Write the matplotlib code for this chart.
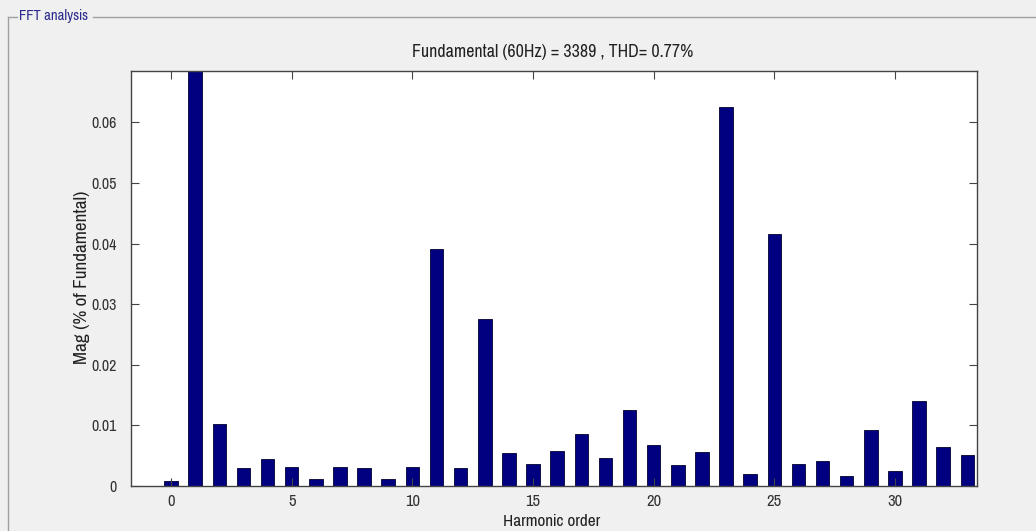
import matplotlib
matplotlib.use("Agg")
import matplotlib.pyplot as plt
from matplotlib.lines import Line2D
from matplotlib import font_manager
from matplotlib.font_manager import FontProperties

# look for a condensed / narrow sans font of regular weight
bad = ["bold", "oblique", "italic", "light", "thin", "medium", "semi", "black", "extra", "heavy", "mono"]
cands = []
for f in font_manager.findSystemFonts():
    low = f.lower().rsplit("/", 1)[-1]
    if ("narrow" in low or "condensed" in low) and not any(b in low for b in bad):
        cands.append(f)
cands.sort(key=lambda p: (0 if "regular" in p.lower() else 1, len(p)))
cand = cands[0] if cands else None

def fp(size):
    if cand:
        return FontProperties(fname=cand, size=size)
    return FontProperties(family=["Liberation Sans", "DejaVu Sans"], size=size * 0.85)

harmonic_order = list(range(0, 34))
magnitude = [0.0009, 100.0, 0.0103, 0.0029, 0.0044, 0.0032, 0.0012, 0.0032, 0.0029, 0.0012,
             0.0032, 0.0391, 0.0029, 0.0275, 0.0054, 0.0036, 0.0058, 0.0086, 0.0047, 0.0125,
             0.0067, 0.0034, 0.0056, 0.0625, 0.0019, 0.0416, 0.0036, 0.0042, 0.0017, 0.0092,
             0.0025, 0.0140, 0.0064, 0.0051]
y_ticks = [0, 0.01, 0.02, 0.03, 0.04, 0.05, 0.06]
y_tick_labels = ["0", "0.01", "0.02", "0.03", "0.04", "0.05", "0.06"]
x_ticks = [0, 5, 10, 15, 20, 25, 30]
title = "Fundamental (60Hz) = 3389 , THD= 0.77%"

bg = "#f0f0f0"
fig = plt.figure(figsize=(10.36, 5.31), dpi=100, facecolor=bg)
W, H = 1036, 531

# panel border
border = "#a0a0a0"
fig.add_artist(Line2D([8 / W, 8 / W], [0, 1 - 17 / H], transform=fig.transFigure, color=border, lw=1))
fig.add_artist(Line2D([8 / W, 17 / W], [1 - 17 / H, 1 - 17 / H], transform=fig.transFigure, color=border, lw=1))
fig.add_artist(Line2D([93 / W, 1], [1 - 17 / H, 1 - 17 / H], transform=fig.transFigure, color=border, lw=1))
fig.text(19 / W, 1 - 16 / H, "FFT analysis", color="#2a2a8c", fontproperties=fp(11.5), va="center", ha="left")

ax = fig.add_axes([131 / W, 45 / H, (977 - 131) / W, (486 - 71) / H])
ax.bar(harmonic_order, magnitude, width=0.56, color="#000080", edgecolor="#000030", linewidth=0.6)
ax.set_xlim(-1.66, 33.4)
ax.set_ylim(0, 0.0685)
ax.set_xticks(x_ticks)
ax.set_xticklabels([str(v) for v in x_ticks], fontproperties=fp(13))
ax.set_yticks(y_ticks)
ax.set_yticklabels(y_tick_labels, fontproperties=fp(12.5))
ax.tick_params(axis="both", direction="in", length=6, width=0.8, top=True, right=True,
               colors="#444444")
ax.tick_params(axis="y", pad=10)
ax.tick_params(axis="x", pad=6)
for lab in ax.get_xticklabels() + ax.get_yticklabels():
    lab.set_color("#333333")
for s in ax.spines.values():
    s.set_color("#444444")
    s.set_linewidth(1.0)
fig.text(553 / W, 1 - 52 / H, title, fontproperties=fp(14), color="#222222", ha="center", va="center")
fig.text(552 / W, 1 - 522 / H, "Harmonic order", fontproperties=fp(13.5), color="#222222", ha="center", va="center")
fig.text(82 / W, 1 - 277 / H, "Mag (% of Fundamental)", fontproperties=fp(15), color="#222222",
         ha="center", va="center", rotation=90)

fig.savefig("out.png", dpi=100, facecolor=bg)
